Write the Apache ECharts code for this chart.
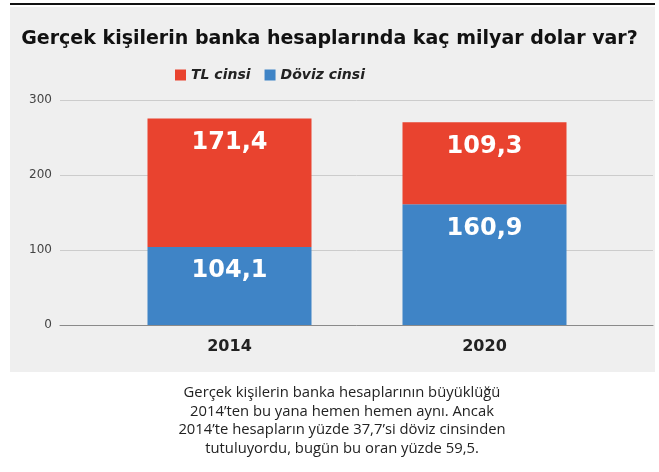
<!DOCTYPE html>
<html>
<head>
<meta charset="utf-8">
<script src="https://cdn.jsdelivr.net/npm/echarts@6/dist/echarts.min.js"></script>
<style>
  html, body { margin: 0; padding: 0; background: #fff; }
  #chart { width: 659px; height: 472px; }
</style>
</head>
<body>
<div id="chart"></div>
<script>
const years = ['2014', '2020']
const tlValues = [171.4, 109.3]
const dovizValues = [104.1, 160.9]
const yTicks = { min: 0, max: 300, interval: 100 }
const captionLines = [
  'Gerçek kişilerin banka hesaplarının büyüklüğü',
  '2014’ten bu yana hemen hemen aynı. Ancak',
  '2014’te hesapların yüzde 37,7’si döviz cinsinden',
  'tutuluyordu, bugün bu oran yüzde 59,5.'
]

const fmt = v => String(v).replace('.', ',')

const myChart = echarts.init(document.getElementById('chart'))

const barLabel = {
  show: true,
  position: 'insideTop',
  distance: 12,
  color: '#fff',
  fontFamily: 'DejaVu Sans',
  fontWeight: 'bold',
  fontSize: 24,
  formatter: p => fmt(p.value)
}

const option = {
  animation: false,
  backgroundColor: '#fff',
  graphic: [
    { type: 'rect', z: -10, shape: { x: 10, y: 7, width: 645, height: 365 }, style: { fill: '#efefef' } },
    { type: 'rect', z: -9, shape: { x: 10, y: 3, width: 645, height: 2 }, style: { fill: '#111' } },
    {
      type: 'text', x: 342, y: 384,
      style: {
        text: captionLines.join('\n'),
        textAlign: 'center',
        fontFamily: 'Open Sans',
        fontSize: 14.8,
        lineHeight: 18.5,
        fill: '#222'
      }
    }
  ],
  title: {
    text: 'Gerçek kişilerin banka hesaplarında kaç milyar dolar var?',
    left: 'center',
    top: 25,
    textStyle: { fontFamily: 'DejaVu Sans', fontWeight: 'bold', fontSize: 19, color: '#111' }
  },
  legend: {
    data: ['TL cinsi', 'Döviz cinsi'],
    left: 170,
    top: 63,
    icon: 'rect',
    itemWidth: 11,
    itemHeight: 11,
    itemGap: 14,
    textStyle: { fontFamily: 'DejaVu Sans', fontStyle: 'italic', fontWeight: 'bold', fontSize: 14, color: '#222' }
  },
  grid: [
    { left: 60, right: 6, top: 100, bottom: 147 },
    { left: 102, right: 47, top: 100, bottom: 147 }
  ],
  xAxis: [
    {
      gridIndex: 0, type: 'category', data: [''],
      axisLine: { show: true, lineStyle: { color: '#8a8a8a', width: 1 } },
      axisTick: { show: false }, axisLabel: { show: false }
    },
    {
      gridIndex: 1, type: 'category', data: years,
      axisLine: { show: false }, axisTick: { show: false },
      axisLabel: { margin: 14, fontFamily: 'DejaVu Sans', fontWeight: 'bold', fontSize: 16, color: '#222' }
    }
  ],
  yAxis: [
    {
      gridIndex: 0, type: 'value', ...yTicks,
      axisLine: { show: false }, axisTick: { show: false },
      axisLabel: { margin: 8, fontFamily: 'DejaVu Sans', fontSize: 12, color: '#444' },
      splitLine: { lineStyle: { color: '#cccccc', width: 1 } }
    },
    {
      gridIndex: 1, type: 'value', ...yTicks, show: false, splitLine: { show: false }
    }
  ],
  series: [
    {
      name: 'Döviz cinsi', type: 'bar', stack: 'total',
      xAxisIndex: 1, yAxisIndex: 1, barWidth: 164,
      itemStyle: { color: '#3f84c6' },
      label: barLabel,
      data: dovizValues
    },
    {
      name: 'TL cinsi', type: 'bar', stack: 'total',
      xAxisIndex: 1, yAxisIndex: 1, barWidth: 164,
      itemStyle: { color: '#e9432f' },
      label: barLabel,
      data: tlValues
    }
  ]
}

myChart.setOption(option)
</script>
</body>
</html>
